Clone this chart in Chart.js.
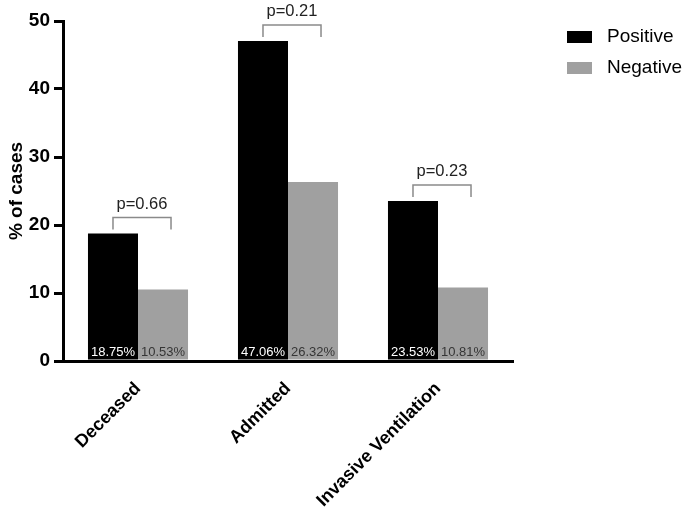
<!DOCTYPE html>
<html lang="en">
<head>
  <meta charset="UTF-8">
  <title>% of cases</title>
  <script src="https://cdn.jsdelivr.net/npm/chart.js"></script>
  <style>
    html, body { margin: 0; padding: 0; background: #fff; }
    #wrap { width: 685px; height: 512px; }
  </style>
</head>
<body>
<div id="wrap"><canvas id="grafica"></canvas></div>

<script>
const categorias = ["Deceased", "Admitted", "Invasive Ventilation"];
const positivos = [18.75, 47.06, 23.53];
const negativos = [10.53, 26.32, 10.81];
const pValores = ["p=0.66", "p=0.21", "p=0.23"];
const ticksY = [0, 10, 20, 30, 40, 50];

const FUENTE = "'Liberation Sans', Arial, Helvetica, sans-serif";

// etiquetas dentro de las barras, corchetes con p y leyenda
const anotaciones = {
  id: "anotaciones",
  afterDatasetsDraw(chart) {
    const ctx = chart.ctx;
    const y = chart.scales.y;
    const mPos = chart.getDatasetMeta(0).data;
    const mNeg = chart.getDatasetMeta(1).data;

    ctx.save();
    ctx.font = "13px " + FUENTE;
    ctx.textAlign = "center";
    ctx.textBaseline = "alphabetic";
    categorias.forEach((c, i) => {
      ctx.fillStyle = "#ffffff";
      ctx.fillText(positivos[i].toFixed(2) + "%", mPos[i].x, y.bottom - 5);
      ctx.fillStyle = "#353535";
      ctx.fillText(negativos[i].toFixed(2) + "%", mNeg[i].x, y.bottom - 5);
    });

    ctx.strokeStyle = "#8a8a8a";
    ctx.lineWidth = 1.5;
    ctx.font = "16.5px " + FUENTE;
    ctx.fillStyle = "#222";
    categorias.forEach((c, i) => {
      const x1 = mPos[i].x;
      const x2 = mNeg[i].x + 8;
      const abajo = y.getPixelForValue(Math.max(positivos[i], negativos[i])) - 4;
      const arriba = abajo - 12;
      ctx.beginPath();
      ctx.moveTo(x1, abajo);
      ctx.lineTo(x1, arriba);
      ctx.lineTo(x2, arriba);
      ctx.lineTo(x2, abajo);
      ctx.stroke();
      ctx.fillText(pValores[i], (x1 + x2) / 2, arriba - 9);
    });

    // leyenda
    ctx.font = "19px " + FUENTE;
    ctx.textAlign = "left";
    ctx.textBaseline = "middle";
    chart.data.datasets.forEach((d, i) => {
      const yy = 37 + i * 31;
      ctx.fillStyle = d.backgroundColor;
      ctx.fillRect(567, yy - 6, 25, 12);
      ctx.fillStyle = "#000";
      ctx.fillText(d.label, 607, yy);
    });
    ctx.restore();
  }
};

new Chart(document.getElementById("grafica"), {
  type: "bar",
  data: {
    labels: categorias,
    datasets: [
      { label: "Positive", data: positivos, backgroundColor: "#000000" },
      { label: "Negative", data: negativos, backgroundColor: "#a0a0a0" }
    ]
  },
  options: {
    responsive: true,
    maintainAspectRatio: false,
    animation: false,
    events: [],
    layout: { padding: { top: 21, right: 172, left: 0, bottom: 0 } },
    datasets: { bar: { categoryPercentage: 0.667, barPercentage: 1.0 } },
    plugins: { legend: { display: false }, tooltip: { enabled: false } },
    scales: {
      x: {
        afterFit: s => { s.height = 151; },
        grid: { display: false },
        border: { display: true, width: 3, color: "#000" },
        ticks: {
          autoSkip: false, maxRotation: 45, minRotation: 45, padding: 9,
          color: "#000", font: { family: FUENTE, size: 18, weight: "bold" }
        }
      },
      y: {
        min: 0, max: 50,
        afterFit: s => { s.width = 63; },
        afterBuildTicks: s => { s.ticks = ticksY.map(v => ({ value: v })); },
        grid: { drawOnChartArea: false, drawTicks: true, tickLength: 9, color: "#000", lineWidth: 3 },
        border: { display: true, width: 3, color: "#000" },
        ticks: { padding: 4, color: "#000", font: { family: FUENTE, size: 19, weight: "bold" } },
        title: {
          display: true, text: "% of cases", color: "#000", padding: { top: 5, bottom: 0 },
          font: { family: FUENTE, size: 19, weight: "bold" }
        }
      }
    }
  },
  plugins: [anotaciones]
});
</script>
</body>
</html>
